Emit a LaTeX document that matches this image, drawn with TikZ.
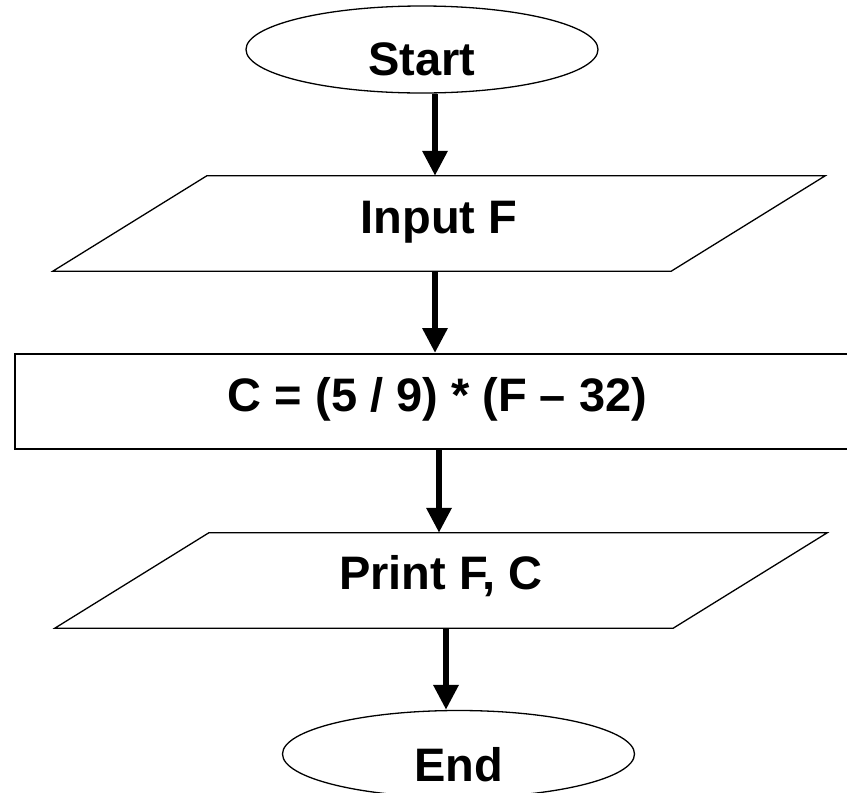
\documentclass[tikz,border=0pt]{standalone}
\usepackage{fontspec}
\setmainfont{Liberation Sans}
\usetikzlibrary{arrows.meta,shapes.geometric}

% text set with a fixed box (cap height, no depth), lifted by #1
\newcommand\liftby[2]{\raisebox{#1}[33.7pt][0pt]{#2}}

\begin{document}
\begin{tikzpicture}[x=1pt, y=-1pt,
  every node/.style={font=\fontsize{47pt}{56pt}\selectfont\bfseries, inner sep=0pt},
  terminal/.style={ellipse, draw, line width=1.3pt, fill=white,
    minimum width=352pt, minimum height=87pt},
  iobox/.style={rectangle, minimum width=618pt, minimum height=95pt},
  iopath/.style={draw, line width=1.3pt, line join=miter},
  procbox/.style={rectangle, draw, line width=2pt, fill=white,
    minimum width=845pt, minimum height=95pt},
  flow/.style={line width=6.5pt, -{Triangle[width=24pt, length=25pt]}}
]
\useasboundingbox (0,0) rectangle (847,793);

% flow chart boxes
\node[terminal] (start) at (422,49.5)  {\liftby{-9pt}{Start}};
\node[iobox]    (input) at (439,223.5) {\liftby{6.5pt}{Input F}};
\node[procbox]  (calc)  at (437.5,401.5) {\liftby{7pt}{C = (5 / 9) * (F \textendash{} 32)}};
\node[iobox]    (print) at (441,580.5) {\liftby{7.5pt}{Print F, C}};
\node[terminal] (stop)  at (458.5,754) {\liftby{-11pt}{End}};

% slanted outlines of the input/output boxes
\path[iopath] ([xshift=77pt]input.north west) -- ([xshift=77pt]input.north east)
  -- ([xshift=-77pt]input.south east) -- ([xshift=-77pt]input.south west) -- cycle;
\path[iopath] ([xshift=77pt]print.north west) -- ([xshift=77pt]print.north east)
  -- ([xshift=-77pt]print.south east) -- ([xshift=-77pt]print.south west) -- cycle;

% columns of the connectors
\coordinate (c1) at (435,0);
\coordinate (c2) at (435,0);
\coordinate (c3) at (439,0);
\coordinate (c4) at (446,0);

\draw[flow] (c1 |- start.south) -- (c1 |- input.north);
\draw[flow] (c2 |- input.south) -- (c2 |- calc.north);
\draw[flow] (c3 |- calc.south)  -- (c3 |- print.north);
\draw[flow] (c4 |- print.south) -- (c4 |- stop.north);
\end{tikzpicture}
\end{document}
